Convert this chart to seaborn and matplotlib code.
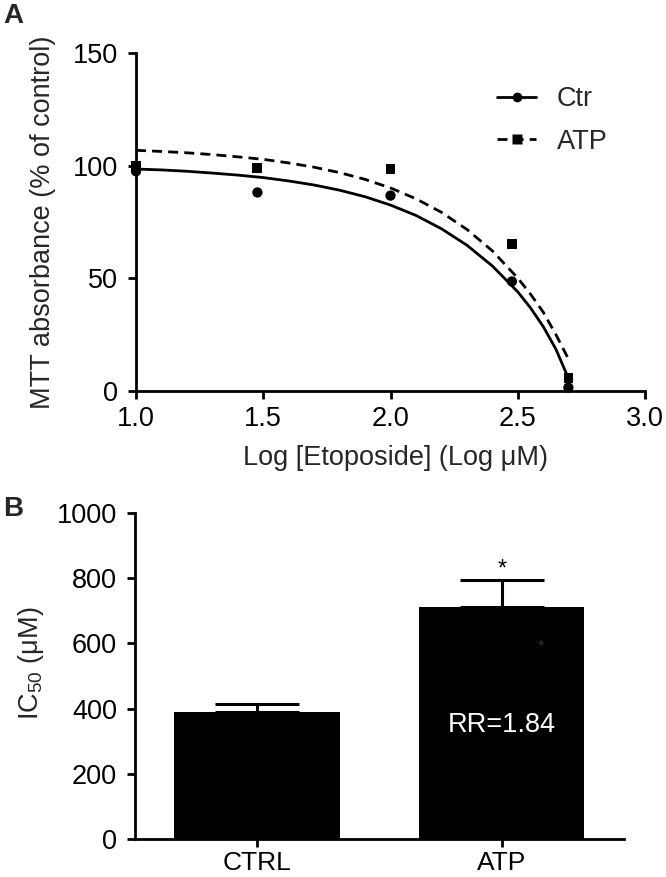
import matplotlib
matplotlib.use("Agg")
import matplotlib.pyplot as plt
from matplotlib.lines import Line2D
import seaborn as sns
import numpy as np
import pandas as pd

# ---------------- data ----------------
# Panel A: measured points (log concentration, % of control)
dose_log = [1.0, 1.477, 2.0, 2.477, 2.699]
ctr_points = [97.5, 88.1, 86.7, 48.6, 1.5]
atp_points = [100.0, 99.0, 98.5, 65.2, 5.6]

# Panel A: fitted curves
curve_x_ctr = [1.0, 1.1, 1.2, 1.3, 1.4, 1.5, 1.6, 1.7, 1.8, 1.9, 2.0,
               2.1, 2.2, 2.3, 2.4, 2.5, 2.55, 2.6, 2.65, 2.69]
curve_ctr = [98.5, 98.1, 97.5, 96.7, 95.8, 94.7, 93.2, 91.4, 89.1, 86.2, 82.5,
             77.9, 72.0, 64.7, 55.5, 44.0, 36.9, 28.6, 18.5, 8.0]
curve_x_atp = [1.0, 1.1, 1.2, 1.3, 1.4, 1.5, 1.6, 1.7, 1.8, 1.9, 2.0,
               2.1, 2.2, 2.3, 2.4, 2.5, 2.55, 2.6, 2.65, 2.70]
curve_atp = [106.8, 106.3, 105.7, 104.9, 103.9, 102.8, 101.2, 99.3, 96.9, 93.9, 90.1,
             85.3, 79.3, 71.7, 62.2, 50.1, 43.0, 35.0, 25.0, 14.0]

# Panel B: IC50 bars
groups = ["CTRL", "ATP"]
ic50 = [390, 712]
ic50_err = [23, 83]

xticks_a = [1.0, 1.5, 2.0, 2.5, 3.0]
yticks_a = [0, 50, 100, 150]
yticks_b = [0, 200, 400, 600, 800, 1000]

# ---------------- style ----------------
sns.set_style("ticks")
FS = 19.5
plt.rcParams["font.family"] = ["Liberation Sans", "DejaVu Sans"]
plt.rcParams["font.size"] = FS
plt.rcParams["mathtext.fontset"] = "custom"
plt.rcParams["mathtext.rm"] = "Liberation Sans"
plt.rcParams["mathtext.it"] = "Liberation Sans:italic"
plt.rcParams["mathtext.bf"] = "Liberation Sans:bold"

fig = plt.figure(figsize=(6.66, 8.77), dpi=100)
ax1 = fig.add_axes([0.2042, 0.5542, 0.7643, 0.3854])
ax2 = fig.add_axes([0.2027, 0.0433, 0.7342, 0.3717])

LW = 2.0
SPW = 2.0
dash = (0, (3.6, 2.2))

# ---------------- panel A ----------------
sns.lineplot(x=curve_x_ctr, y=curve_ctr, ax=ax1, color="black", linewidth=LW,
             legend=False, sort=True)
sns.lineplot(x=curve_x_atp, y=curve_atp, ax=ax1, color="black", linewidth=LW,
             linestyle=dash, legend=False, sort=True)
sns.scatterplot(x=dose_log, y=ctr_points, ax=ax1, marker="o", s=55,
                color="black", edgecolor="none", legend=False, clip_on=False, zorder=3)
sns.scatterplot(x=dose_log, y=atp_points, ax=ax1, marker="s", s=50,
                color="black", edgecolor="none", legend=False, clip_on=False, zorder=3)

ax1.set_xlim(1.0, 3.0)
ax1.set_ylim(0, 150)
ax1.set_xticks(xticks_a)
ax1.set_xticklabels([f"{v:.1f}" for v in xticks_a])
ax1.set_yticks(yticks_a)
ax1.set_yticklabels([str(v) for v in yticks_a])
ax1.set_xlabel("Log [Etoposide] (Log μM)", fontsize=FS)
ax1.set_ylabel("MTT absorbance (% of control)", fontsize=FS)
ax1.xaxis.set_label_coords(0.51, -0.16)
ax1.yaxis.set_label_coords(-0.157, 0.5)

handles = [
    Line2D([], [], color="black", lw=LW, marker="o", ms=7, mec="none"),
    Line2D([], [], color="black", lw=LW, linestyle=dash, marker="s", ms=6.5, mec="none"),
]
ax1.legend(handles, ["Ctr", "ATP"], loc="center left", bbox_to_anchor=(0.709, 0.80),
           frameon=False, borderpad=0, borderaxespad=0, handlelength=1.45,
           handletextpad=0.76, labelspacing=0.62, fontsize=FS)

# ---------------- panel B ----------------
sns.barplot(x=groups, y=ic50, ax=ax2, color="black", width=0.677,
            errorbar=None, saturation=1, linewidth=0, edgecolor="black")
ax2.errorbar([0, 1], ic50, yerr=[[0, 0], ic50_err], fmt="none", ecolor="black",
             elinewidth=2.2, capsize=30, capthick=2.2, zorder=1)
ax2.set_xlim(-0.5, 1.5)
ax2.set_ylim(0, 1000)
ax2.set_yticks(yticks_b)
ax2.set_yticklabels([str(v) for v in yticks_b])
ax2.set_xlabel("")
ax2.set_ylabel(r"IC$_{50}$ (μM)", fontsize=FS)
ax2.yaxis.set_label_coords(-0.183, 0.54)

ax2.text(1, 350, "RR=1.84", color="white", ha="center", va="center", fontsize=FS)
ax2.text(1, 808, "*", color="black", ha="center", va="baseline", fontsize=17)
ax2.text(1.16, 577, "*", color="#303030", ha="center", va="baseline", fontsize=12)

# ---------------- common axis styling ----------------
for ax in (ax1, ax2):
    sns.despine(ax=ax)
    for side in ("left", "bottom"):
        ax.spines[side].set_linewidth(SPW)
        ax.spines[side].set_color("black")
    ax.tick_params(axis="both", direction="out", length=6, width=SPW,
                   color="black", labelcolor="black", labelsize=FS)
    ax.tick_params(axis="y", pad=7)
ax1.tick_params(axis="x", pad=5)
ax2.tick_params(axis="x", pad=2.5, labelsize=19)

fig.text(3 / 666, 1 - 23 / 877, "A", fontsize=20, fontweight="bold",
         ha="left", va="baseline")
fig.text(3 / 666, 1 - 516 / 877, "B", fontsize=20, fontweight="bold",
         ha="left", va="baseline")

fig.savefig("out.png", dpi=100)
